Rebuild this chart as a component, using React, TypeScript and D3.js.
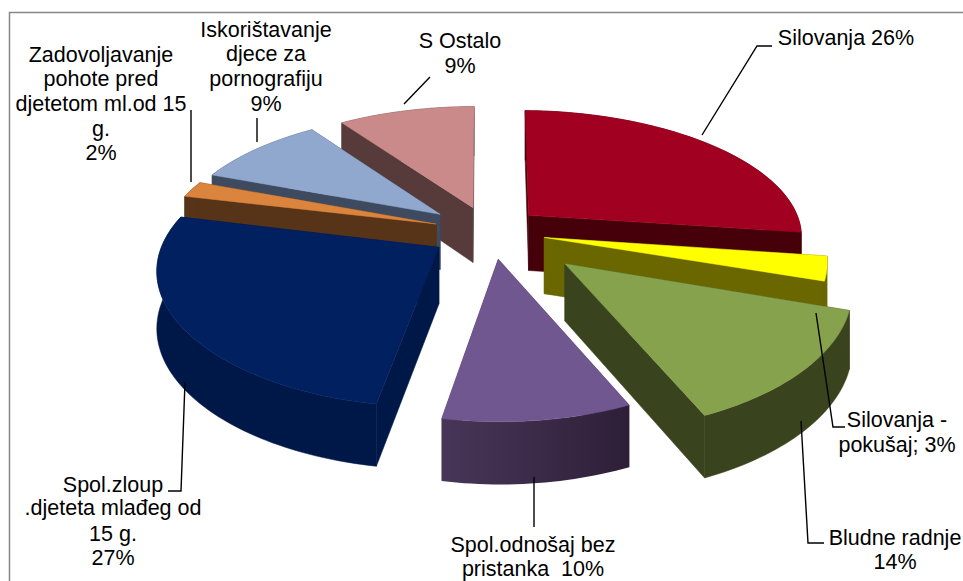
import React from "react";
import * as d3 from "d3";

const categories = [
  "Silovanja", "Silovanja - pokušaj", "Bludne radnje", "Spol.odnošaj bez pristanka",
  "Spol.zloup .djeteta mlađeg od 15 g.", "Zadovoljavanje pohote pred djetetom ml.od 15 g.",
  "Iskorištavanje djece za pornografiju", "S Ostalo",
];
const values = [26, 3, 14, 10, 27, 2, 9, 9];
const explosion = [0.21, 0.21, 0.36, 0.2, 0.215, 0.2, 0.23, 0.215];
const sliceRadius = [1, 1.02, 1.015, 1, 1.01, 1, 0.97, 0.98];
const shiftX = [0, 0, 0, 0.015, 0.012, 0, 0, 0.008];
const topColors = ["#A10020", "#FFFF00", "#87A24C", "#70578F", "#002060", "#DB843D", "#91A8CE", "#CB8A8A"];
const sideColors = ["#45000A", "#6A6600", "#39431E", "#3A2B4A", "#001848", "#573418", "#3D4A60", "#573A3A"];
const drawOrder = [7, 6, 5, 4, 0, 1, 2, 3];

const labels = [
  { lines: ["Silovanja 26%"], x: 846, y: [45] },
  { lines: ["Silovanja -", "pokušaj; 3%"], x: 897, y: [427, 452] },
  { lines: ["Bludne radnje", "14%"], x: 895, y: [545, 569] },
  { lines: ["Spol.odnošaj bez", "pristanka  10%"], x: 533, y: [552, 576] },
  { lines: ["Spol.zloup", ".djeteta mlađeg od", "15 g.", "27%"], x: 113, y: [492, 515, 541, 565] },
  { lines: ["Zadovoljavanje", "pohote pred", "djetetom ml.od 15", "g.", "2%"], x: 101, y: [62, 86, 111, 136, 160] },
  { lines: ["Iskorištavanje", "djece za", "pornografiju", "9%"], x: 266, y: [37, 61, 86, 111] },
  { lines: ["S Ostalo", "9%"], x: 460, y: [48, 73] },
];
const leaders = [
  [[702, 135], [757, 46], [772, 46]],
  [[816, 313], [833, 427], [845, 427]],
  [[801, 421], [808, 543], [824, 543]],
  [[534, 477], [534, 527]],
  [[185, 382], [181, 491], [168, 491]],
  [[191, 110], [191, 182]],
  [[257, 118], [257, 142]],
  [[404, 104], [430, 77]],
];

const W = 963, H = 581;
const CX = 487, CY = 233, A = 275, B = 127, PY = 0.1615, PX = 0.09, DEPTH = 56, SAG = 7;

const project = (x: number, y: number, z: number): [number, number] => [
  CX + (A * x) / (1 - PX * y),
  CY + (B * y) / (1 - PY * y) + SAG * x * x + z * DEPTH * (1 + 0.1 * y),
];

const pie = d3.pie<number>().sort(null).startAngle(0).endAngle(2 * Math.PI);
const arcs = pie(values);
const line = d3.line();

function slice(i: number) {
  const a = arcs[i];
  const mid = (a.startAngle + a.endAngle) / 2;
  const e = explosion[i];
  const r = sliceRadius[i];
  const ox = e * Math.sin(mid) + shiftX[i], oy = -e * Math.cos(mid);
  const n = Math.max(6, Math.ceil((a.endAngle - a.startAngle) * 40));
  const ts = d3.range(n + 1).map((k) => a.startAngle + ((a.endAngle - a.startAngle) * k) / n);
  const rim = ts.map((t) => [ox + r * Math.sin(t), oy - r * Math.cos(t)] as [number, number]);
  const top = (p: [number, number]) => project(p[0], p[1], 0);
  const bot = (p: [number, number]) => project(p[0], p[1], 1);
  const apex: [number, number] = [ox, oy];
  const first = rim[0], last = rim[rim.length - 1];
  const walls = [
    { d: line([top(apex), top(first), bot(first), bot(apex)])! + "Z", y: (apex[1] + first[1]) / 2 },
    { d: line([top(apex), top(last), bot(last), bot(apex)])! + "Z", y: (apex[1] + last[1]) / 2 },
    { d: line([...rim.map(top), ...rim.slice().reverse().map(bot)])! + "Z", y: 2 },
  ].sort((p, q) => p.y - q.y);
  return { walls, topPath: line([top(apex), ...rim.map(top)])! + "Z" };
}

export default function App() {
  return (
    <svg
      width={W}
      height={H}
      viewBox={`0 0 ${W} ${H}`}
      style={{ position: "fixed", left: 0, top: 0, background: "#fff" }}
    >
      <defs>
        <linearGradient id="side3" x1="0" x2="1" y1="0" y2="0">
          <stop offset="0" stopColor="#483658" />
          <stop offset="1" stopColor="#2E1F38" />
        </linearGradient>
      </defs>
      <path d="M9.5 581V12.5H963" fill="none" stroke="#868686" strokeWidth={1.5} />
      {drawOrder.map((i) => {
        const s = slice(i);
        return (
          <g key={categories[i]}>
            {s.walls.map((w, k) => (
              <path
                key={k}
                d={w.d}
                fill={i === 3 ? "url(#side3)" : sideColors[i]}
                stroke={i === 3 ? "none" : sideColors[i]}
                strokeWidth={0.5}
              />
            ))}
            <path d={s.topPath} fill={topColors[i]} stroke={topColors[i]} strokeWidth={0.5} />
          </g>
        );
      })}
      {leaders.map((l, i) => (
        <path key={i} d={line(l as [number, number][])!} fill="none" stroke="#000" strokeWidth={1.4} />
      ))}
      <g fontFamily="'Liberation Sans', Arial, sans-serif" fontSize={21.5} fill="#000" textAnchor="middle">
        {labels.map((l, i) =>
          l.lines.map((t, k) => (
            <text key={`${i}-${k}`} x={l.x} y={l.y[k]} xmlSpace="preserve">
              {t}
            </text>
          ))
        )}
      </g>
    </svg>
  );
}
